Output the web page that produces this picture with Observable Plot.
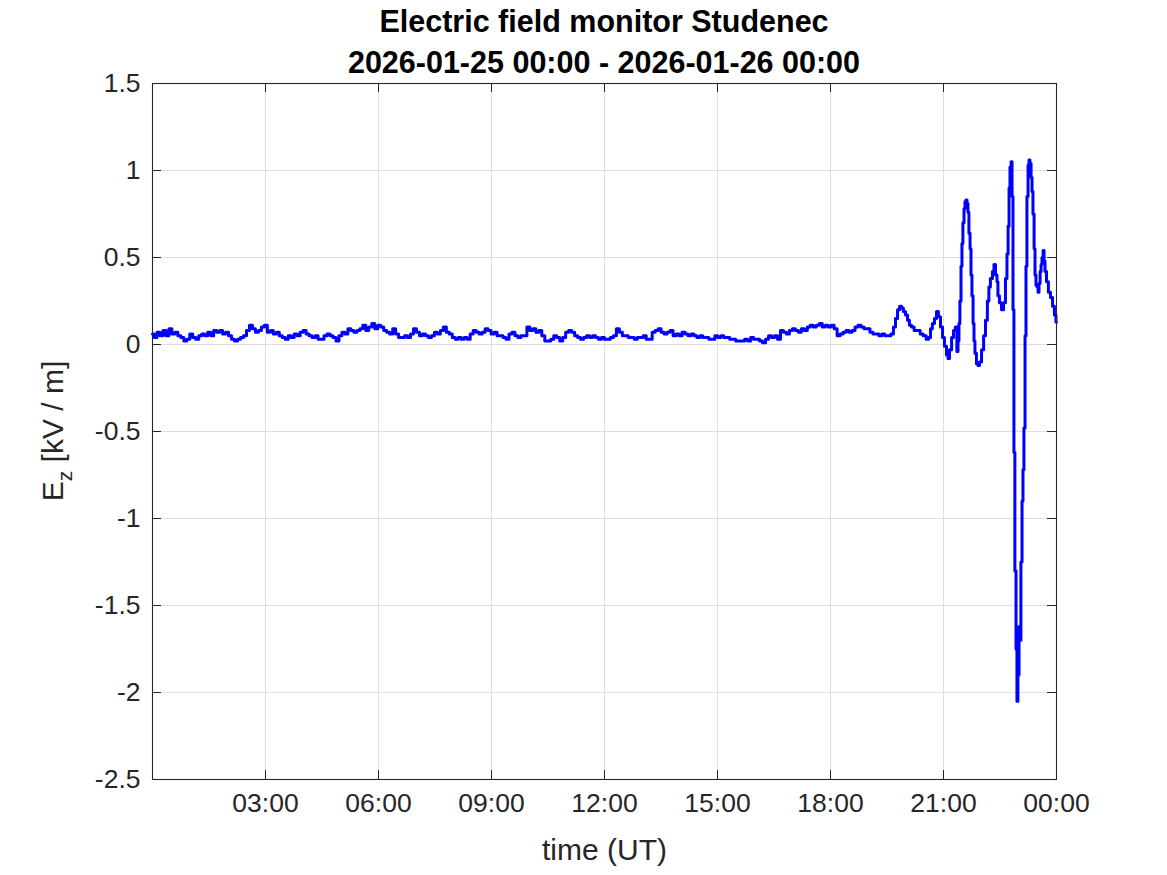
<!DOCTYPE html>
<html><head><meta charset="utf-8">
<script src="https://cdn.jsdelivr.net/npm/d3@7"></script>
<script src="https://cdn.jsdelivr.net/npm/@observablehq/plot@0.6"></script>
<style>
body{margin:0;background:#fff;}
#wrap{position:relative;width:1167px;height:875px;font-family:"Liberation Sans",Arial,sans-serif;}
#title{position:absolute;left:152px;top:0;width:904px;height:82px;box-sizing:border-box;padding-top:1px;text-align:center;font-weight:bold;font-size:30.5px;line-height:41px;color:#000;z-index:2;}
#chart svg{display:block;}
</style></head><body>
<div id="wrap">
<div id="title">Electric field monitor Studenec<br>2026-01-25 00:00 - 2026-01-26 00:00</div>
<div id="chart"></div>
</div>
<script>
// quiet part: samples every quietStepHours starting at 00:00
const quietStepHours = 0.0792;
const quietEz = [
0.06,0.04,0.07,0.05,0.08,0.05,0.09,0.06,0.07,0.05,
0.04,0.02,0.03,0.06,0.04,0.03,0.05,0.06,0.05,0.07,
0.05,0.08,0.07,0.08,0.06,0.07,0.05,0.03,0.02,0.03,
0.04,0.05,0.08,0.11,0.09,0.07,0.08,0.10,0.11,0.07,
0.08,0.06,0.07,0.05,0.04,0.03,0.05,0.04,0.06,0.05,
0.07,0.08,0.06,0.05,0.04,0.05,0.03,0.03,0.05,0.06,
0.05,0.04,0.02,0.05,0.07,0.06,0.09,0.08,0.07,0.08,
0.09,0.11,0.08,0.10,0.12,0.09,0.11,0.10,0.08,0.07,
0.06,0.09,0.06,0.04,0.04,0.05,0.04,0.06,0.09,0.07,
0.05,0.06,0.05,0.04,0.05,0.07,0.06,0.08,0.10,0.07,
0.06,0.04,0.03,0.04,0.03,0.04,0.03,0.06,0.08,0.07,
0.06,0.07,0.09,0.08,0.06,0.07,0.05,0.05,0.04,0.03,
0.06,0.07,0.05,0.04,0.05,0.05,0.10,0.08,0.09,0.07,
0.08,0.05,0.02,0.02,0.03,0.05,0.04,0.02,0.04,0.07,
0.08,0.07,0.05,0.04,0.03,0.04,0.05,0.04,0.05,0.04,
0.03,0.04,0.03,0.03,0.04,0.05,0.09,0.07,0.05,0.05,
0.04,0.04,0.03,0.04,0.04,0.05,0.03,0.03,0.07,0.08,
0.09,0.07,0.06,0.07,0.08,0.05,0.06,0.05,0.07,0.06,
0.05,0.06,0.05,0.04,0.05,0.04,0.04,0.03,0.03,0.05,
0.04,0.05,0.04,0.04,0.03,0.03,0.02,0.02,0.02,0.03,
0.02,0.04,0.03,0.03,0.02,0.01,0.03,0.05,0.04,0.05,
0.03,0.08,0.07,0.06,0.08,0.09,0.08,0.07,0.09,0.08,
0.10,0.11,0.10,0.11,0.12,0.10,0.11,0.10,0.11,0.09,
0.05,0.06,0.07,0.08,0.07,0.08,0.10,0.11,0.10,0.09,
0.09,0.07,0.06,0.06,0.05,0.06,0.05,0.05,0.06
];
// active part: explicit times (hours UT) and values (kV/m)
const activeHours = [
19.70,19.75,19.81,19.86,19.91,19.96,20.02,20.07,20.12,20.18,
20.26,20.34,20.42,20.50,20.58,20.63,20.68,20.73,20.79,20.84,
20.89,20.95,21.00,21.05,21.11,21.13,21.19,21.24,21.29,21.34,
21.37,21.40,21.42,21.45,21.48,21.50,21.53,21.56,21.58,21.61,
21.64,21.66,21.69,21.72,21.74,21.77,21.80,21.82,21.85,21.90,
21.93,21.98,22.04,22.09,22.14,22.19,22.22,22.27,22.33,22.35,
22.41,22.43,22.46,22.51,22.57,22.62,22.67,22.70,22.73,22.75,
22.78,22.81,22.83,22.86,22.88,22.91,22.94,22.96,22.99,23.02,
23.04,23.07,23.10,23.12,23.15,23.18,23.20,23.23,23.26,23.28,
23.31,23.34,23.36,23.39,23.42,23.44,23.47,23.50,23.52,23.55,
23.58,23.60,23.63,23.66,23.68,23.71,23.76,23.81,23.87,23.92,
23.97,24.00
];
const activeEz = [
0.10,0.15,0.20,0.22,0.21,0.19,0.17,0.14,0.11,0.10,
0.08,0.08,0.06,0.05,0.03,0.04,0.09,0.12,0.15,0.19,
0.16,0.10,0.04,-0.01,-0.06,-0.08,-0.03,0.04,0.08,0.10,
-0.04,0.02,0.12,0.25,0.45,0.58,0.70,0.78,0.82,0.83,
0.81,0.76,0.64,0.55,0.40,0.28,0.12,0.02,-0.05,-0.11,
-0.12,-0.10,-0.03,0.05,0.14,0.25,0.33,0.38,0.42,0.46,
0.40,0.36,0.28,0.24,0.20,0.24,0.38,0.52,0.68,0.90,
1.02,1.05,0.85,0.20,-0.62,-1.30,-1.75,-2.05,-1.90,-1.62,
-1.70,-1.25,-0.90,-0.72,-0.48,0.05,0.45,0.85,1.03,1.06,
1.04,0.96,0.88,0.75,0.55,0.40,0.34,0.33,0.30,0.35,
0.42,0.46,0.50,0.54,0.48,0.42,0.36,0.30,0.27,0.22,
0.17,0.13
];
const xTicks = [3,6,9,12,15,18,21,24];
const xTickLabels = ["03:00","06:00","09:00","12:00","15:00","18:00","21:00","00:00"];
const yTicks = [-2.5,-2,-1.5,-1,-0.5,0,0.5,1,1.5];
const yTickLabels = ["-2.5","-2","-1.5","-1","-0.5","0","0.5","1","1.5"];
const xLabel = "time (UT)";

const series = quietEz.map((v, i) => ({h: i * quietStepHours, ez: v}))
  .concat(activeHours.map((h, i) => ({h, ez: activeEz[i]})));

const W = 1167, H = 875, mT = 83, mB = 96, mL = 152, mR = 111;
const plotW = W - mL - mR, plotH = H - mT - mB, tick = 9;
const ink = "#262626";

const chart = Plot.plot({
  width: W, height: H,
  marginTop: mT, marginBottom: mB, marginLeft: mL, marginRight: mR,
  style: {fontFamily: '"Liberation Sans", Arial, sans-serif', background: "#fff"},
  x: {domain: [0, 24]},
  y: {domain: [-2.5, 1.5]},
  marks: [
    Plot.gridX(xTicks, {stroke: "#dedede", strokeOpacity: 1}),
    Plot.gridY(yTicks, {stroke: "#dedede", strokeOpacity: 1}),
    Plot.line(series, {x: "h", y: "ez", stroke: "#0000ff", strokeWidth: 3, curve: "step"}),
    Plot.frame({stroke: ink, strokeWidth: 1.1}),
    Plot.tickX(xTicks, {x: d => d, stroke: ink, insetTop: plotH - tick}),
    Plot.tickX(xTicks, {x: d => d, stroke: ink, insetBottom: plotH - tick}),
    Plot.tickY(yTicks, {y: d => d, stroke: ink, insetRight: plotW - tick}),
    Plot.tickY(yTicks, {y: d => d, stroke: ink, insetLeft: plotW - tick}),
    Plot.axisX(xTicks, {tickSize: 0, tickPadding: 14, fontSize: 26.5, fill: ink,
      tickFormat: d => xTickLabels[xTicks.indexOf(d)], label: null}),
    Plot.axisY(yTicks, {tickSize: 0, tickPadding: 12, fontSize: 26.5, fill: ink,
      tickFormat: d => yTickLabels[yTicks.indexOf(d)], label: null}),
    Plot.text([xLabel], {text: d => d, frameAnchor: "bottom", dy: 71, fontSize: 30, fill: ink, lineAnchor: "middle"})
  ]
});
document.getElementById("chart").appendChild(chart);

// y axis label with subscript
const svg = d3.select(chart);
const yl = svg.append("text")
  .attr("transform", `translate(63, ${mT + plotH / 2}) rotate(-90)`)
  .attr("text-anchor", "middle")
  .attr("font-size", 30)
  .attr("fill", ink)
  .attr("font-family", '"Liberation Sans", Arial, sans-serif');
yl.append("tspan").text("E");
yl.append("tspan").attr("font-size", 21).attr("dy", 9).text("z");
yl.append("tspan").attr("dy", -9).text(" [kV / m]");
</script>
</body></html>
